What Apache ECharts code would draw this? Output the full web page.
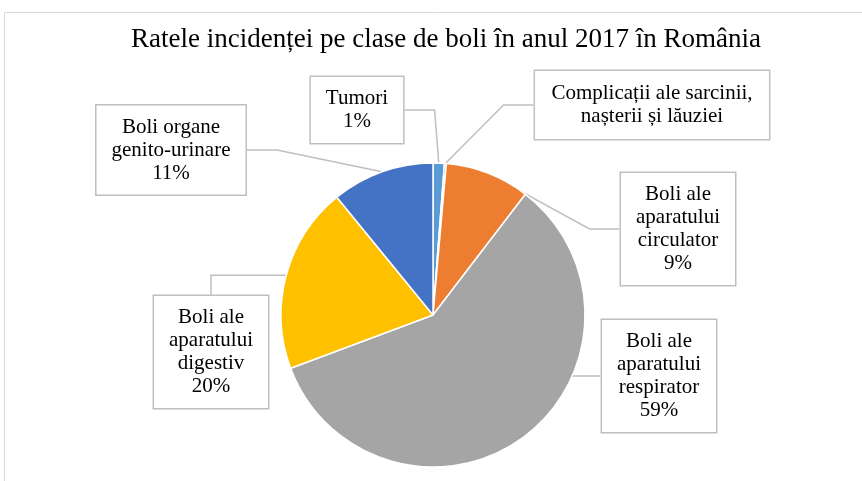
<!DOCTYPE html>
<html>
<head>
<meta charset="utf-8">
<script src="https://cdn.jsdelivr.net/npm/echarts@6/dist/echarts.min.js"></script>
<style>
  html, body { margin: 0; padding: 0; background: #fff; }
  #chart { width: 862px; height: 481px; }
</style>
</head>
<body>
<div id="chart"></div>
<script>
// clockwise from 12 o'clock
const categories = [
  'Tumori',
  'Complicații ale sarcinii, nașterii și lăuziei',
  'Boli ale aparatului circulator',
  'Boli ale aparatului respirator',
  'Boli ale aparatului digestiv',
  'Boli organe genito-urinare'
];
const labelTexts = [
  'Tumori',
  'Complicații ale sarcinii,\nnașterii și lăuziei',
  'Boli ale\naparatului\ncirculator',
  'Boli ale\naparatului\nrespirator',
  'Boli ale\naparatului\ndigestiv',
  'Boli organe\ngenito-urinare'
];
const values = [1.2, 0.2, 9.0, 58.9, 19.8, 10.9];
const showPercent = [true, false, true, true, true, true];
const colors = ['#5B9BD5', '#70AD47', '#ED7D31', '#A5A5A5', '#FFC000', '#4472C4'];

// where the callout boxes sit (centre points)
const labelPos = [
  [357, 110], [652, 105], [678, 229], [659, 376], [211, 352], [171, 150]
];

var myChart = echarts.init(document.getElementById('chart'));

var option = {
  animation: false,
  title: {
    text: 'Ratele incidenței pe clase de boli în anul 2017 în România',
    left: 441,
    top: 21,
    textAlign: 'center',
    textStyle: {
      fontFamily: 'Liberation Serif',
      fontWeight: 'normal',
      fontSize: 27,
      color: '#000'
    }
  },
  graphic: [{
    type: 'rect',
    shape: { x: 4.5, y: 12.5, width: 870, height: 480 },
    style: { fill: 'none', stroke: '#D9D9D9', lineWidth: 1 },
    silent: true,
    z: -1
  }],
  series: [{
    type: 'pie',
    center: [433, 315],
    radius: [0, 152],
    startAngle: 90,
    clockwise: true,
    data: categories.map((c, i) => ({
      name: c,
      value: values[i],
      itemStyle: { color: colors[i] },
      label: i === 1 ? { padding: [11, 40] } : undefined
    })),
    itemStyle: { borderColor: '#fff', borderWidth: 1.5 },
    label: {
      show: true,
      position: 'outside',
      overflow: 'none',
      formatter: function (p) {
        let t = labelTexts[p.dataIndex];
        if (showPercent[p.dataIndex]) t += '\n' + Math.round(p.percent) + '%';
        return t;
      },
      fontFamily: 'Liberation Serif',
      fontSize: 21,
      lineHeight: 23,
      color: '#000',
      align: 'center',
      backgroundColor: '#fff',
      borderColor: '#BFBFBF',
      borderWidth: 1.5,
      padding: [10, 15]
    },
    labelLine: {
      show: true,
      lineStyle: { color: '#BFBFBF', width: 1.5 }
    },
    labelLayout: function (params) {
      const p = labelPos[params.dataIndex];
      return {
        x: p[0],
        y: p[1],
        align: 'center',
        verticalAlign: 'middle'
      };
    }
  }]
};

option && myChart.setOption(option);
</script>
</body>
</html>
